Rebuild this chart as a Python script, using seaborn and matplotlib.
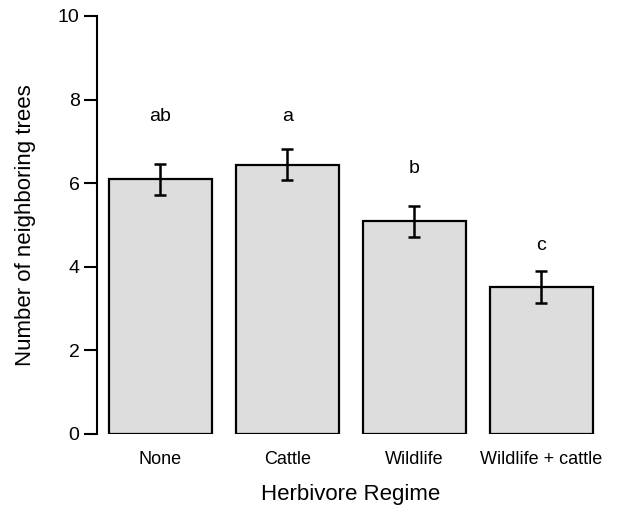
import matplotlib
matplotlib.use("Agg")
import matplotlib.pyplot as plt
import seaborn as sns
import pandas as pd

# Data
regimes = ["None", "Cattle", "Wildlife", "Wildlife + cattle"]
mean_trees = [6.09, 6.44, 5.09, 3.52]
se_trees = [0.37, 0.37, 0.37, 0.38]
letters = ["ab", "a", "b", "c"]
letter_y = [7.6, 7.6, 6.36, 4.5]

df = pd.DataFrame({"regime": regimes, "trees": mean_trees, "se": se_trees})

sns.set_style("white")
plt.rcParams["font.family"] = ["Liberation Sans", "DejaVu Sans"]
plt.rcParams["text.color"] = "black"
plt.rcParams["axes.labelcolor"] = "black"
plt.rcParams["xtick.color"] = "black"
plt.rcParams["ytick.color"] = "black"

fig = plt.figure(figsize=(6.17, 5.11), dpi=100)
ax = fig.add_axes([0.157, 0.1507, 0.823, 0.818])

sns.barplot(data=df, x="regime", y="trees", color="#dddddd", edgecolor="black",
            linewidth=1.6, width=0.81, saturation=1, errorbar=None, ax=ax)
ax.errorbar(range(len(regimes)), df["trees"], yerr=df["se"], fmt="none",
            ecolor="black", elinewidth=1.8, capsize=4, capthick=1.8)

for i, lab in enumerate(letters):
    ax.text(i, letter_y[i], lab, ha="center", va="center", fontsize=14,
            color="black")

ax.set_ylim(0, 10)
ax.set_xlim(-0.5, 3.5)
ax.set_yticks([0, 2, 4, 6, 8, 10])
ax.tick_params(axis="y", direction="out", length=9.5, width=1.5, labelsize=14,
               left=True, pad=3)
ax.tick_params(axis="x", length=0, labelsize=13, pad=12)

sns.despine(ax=ax, bottom=True)
ax.spines["left"].set_linewidth(1.5)
ax.spines["left"].set_color("black")

ax.set_xlabel("Herbivore Regime", fontsize=16, labelpad=12)
ax.set_ylabel("Number of neighboring trees", fontsize=16, labelpad=16)

fig.savefig("out.png", dpi=100)
